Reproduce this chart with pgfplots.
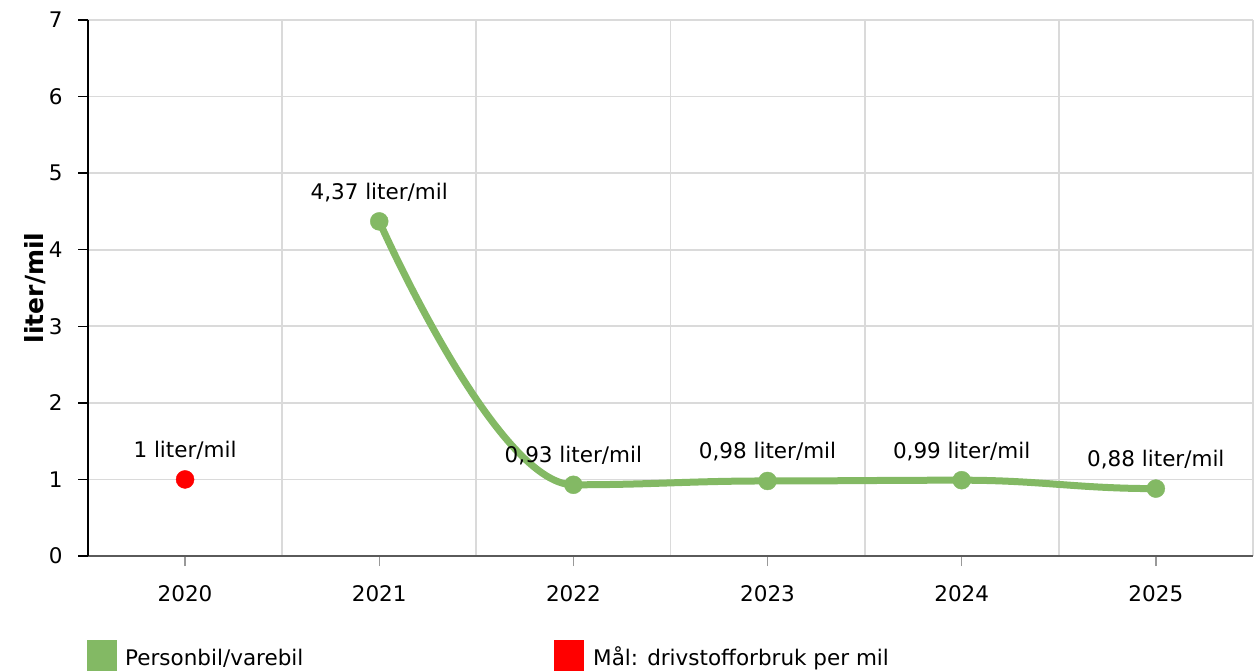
\documentclass[border=0pt]{standalone}
\usepackage{pgfplots}
\pgfplotsset{compat=1.18}
\usepackage{fontspec}
\setmainfont{DejaVu Sans}
\definecolor{lgreen}{RGB}{131,185,100}
\definecolor{gridgray}{RGB}{218,218,218}
\definecolor{axgray}{RGB}{90,90,90}
% spline plot handler: horizontal tangents at interior points (Highcharts-like)
\makeatletter
\def\pgfplothandlerhspline{%
  \def\pgf@plotstreamstart{%
    \global\let\pgf@plotstreampoint=\hs@first
    \global\let\pgf@plotstreamspecial=\pgfutil@gobble
    \global\let\pgf@plotstreamend=\relax
  }%
}
\def\hs@first#1{%
  \pgf@process{#1}%
  \xdef\hs@lx{\the\pgf@x}\xdef\hs@ly{\the\pgf@y}%
  \pgfpathmoveto{\pgfqpoint{\hs@lx}{\hs@ly}}%
  \global\let\pgf@plotstreampoint=\hs@second
}
\def\hs@second#1{%
  \pgf@process{#1}%
  \edef\hs@cx{\the\pgf@x}\edef\hs@cy{\the\pgf@y}%
  \edef\hs@bx{\the\dimexpr \hs@cx - (\hs@cx - \hs@lx)*2/5\relax}%
  \pgfpathcurveto{\pgfqpoint{\hs@lx}{\hs@ly}}{\pgfqpoint{\hs@bx}{\hs@cy}}{\pgfqpoint{\hs@cx}{\hs@cy}}%
  \xdef\hs@lx{\hs@cx}\xdef\hs@ly{\hs@cy}%
  \global\let\pgf@plotstreampoint=\hs@rest
}
\def\hs@rest#1{%
  \pgf@process{#1}%
  \edef\hs@cx{\the\pgf@x}\edef\hs@cy{\the\pgf@y}%
  \edef\hs@ax{\the\dimexpr \hs@lx + (\hs@cx - \hs@lx)*2/5\relax}%
  \edef\hs@bx{\the\dimexpr \hs@cx - (\hs@cx - \hs@lx)*2/5\relax}%
  \pgfpathcurveto{\pgfqpoint{\hs@ax}{\hs@ly}}{\pgfqpoint{\hs@bx}{\hs@cy}}{\pgfqpoint{\hs@cx}{\hs@cy}}%
  \xdef\hs@lx{\hs@cx}\xdef\hs@ly{\hs@cy}%
}
\tikzset{hspline/.code={\def\tikz@plot@handler{\pgfplothandlerhspline}}}
\makeatother
\begin{document}
\fontsize{21.5}{26}\selectfont
\begin{tikzpicture}[font=\fontsize{21.5}{26}\selectfont]
\path[use as bounding box] (0,0) rectangle (1255pt,670pt);
\begin{axis}[
  at={(88pt,114pt)}, anchor=south west,
  scale only axis, width=1165pt, height=536pt,
  xmin=-0.5, xmax=5.5, ymin=0, ymax=7,
  axis lines*=left,
  xtick={0,...,5}, xticklabels={2020,2021,2022,2023,2024,2025},
  minor xtick={0.5,1.5,2.5,3.5,4.5,5.5},
  ytick={0,...,7},
  ymajorgrids, xminorgrids,
  major grid style={gridgray, line width=1.8pt},
  minor grid style={gridgray, line width=1.8pt},
  tick align=outside, major tick length=10pt, minor tick length=0pt,
  x axis line style={draw=axgray, line width=1.6pt},
  y axis line style={draw=black, line width=1.4pt},
  xtick style={draw=gray!80, line width=1.4pt},
  ytick style={draw=black, line width=1.4pt},
  /pgf/number format/assume math mode=true,
  xticklabel style={yshift=-12pt},
  yticklabel style={xshift=-8pt},
  ylabel={\fontsize{25}{30}\selectfont\bfseries liter/mil},
  ylabel style={at={(axis description cs:-0.0455,0.5)}, anchor=center},
  every node near coord/.append style={anchor=base, yshift=22pt, inner sep=0pt, text=black, font=\fontsize{21.5}{26}\selectfont},
]
% green line
\addplot[lgreen, line width=7pt, hspline, no markers] table {
x y
1 4.37
2 0.93
3 0.98
4 0.99
5 0.88
};
% green markers and labels
\addplot[only marks, mark=*, mark size=9pt, mark options={draw=lgreen, fill=lgreen},
  nodes near coords, point meta=explicit symbolic]
  table[col sep=semicolon, meta=label, row sep=\\] {
x;y;label\\
1;4.37;4,37 liter/mil\\
2;0.93;0,93 liter/mil\\
3;0.98;0,98 liter/mil\\
4;0.99;0,99 liter/mil\\
5;0.88;0,88 liter/mil\\
};
% target
\addplot[only marks, mark=*, mark size=9pt, mark options={draw=red, fill=red},
  nodes near coords, point meta=explicit symbolic]
  table[col sep=semicolon, meta=label, row sep=\\] {
x;y;label\\
0;1;1 liter/mil\\
};
\end{axis}
% legend
\fill[lgreen] (87pt,-5pt) rectangle (117pt,30pt);
\node[anchor=base west, inner sep=0pt] at (125pt,5pt) {Personbil/varebil};
\fill[red] (554pt,-5pt) rectangle (584pt,30pt);
\node[anchor=base west, inner sep=0pt] at (593pt,5pt) {Mål: drivstofforbruk per mil};
\end{tikzpicture}
\end{document}
